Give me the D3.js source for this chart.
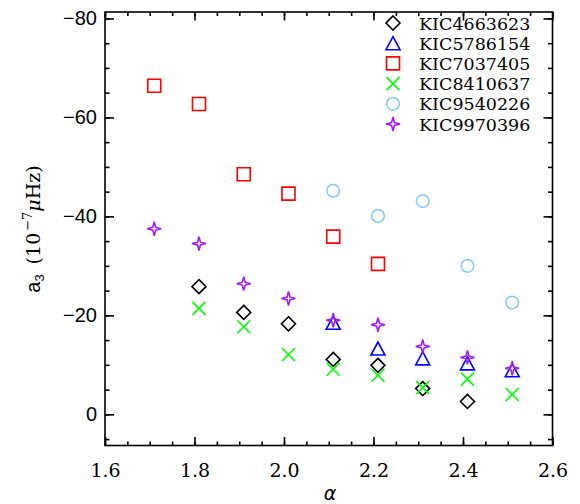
<!DOCTYPE html>
<html>
<head>
<meta charset="utf-8">
<title>a3 vs alpha</title>
<script src="https://d3js.org/d3.v7.min.js"></script>
<style>
  body { margin: 0; background: #fff; }
  svg { display: block; }
</style>
</head>
<body>
<div id="chart"></div>
<script>
// star names (legend order)
var kicNames = ["KIC4663623", "KIC5786154", "KIC7037405", "KIC8410637", "KIC9540226", "KIC9970396"];

// alpha values and a3 (10^-7 muHz) per star
var alpha4663623 = [1.81, 1.91, 2.01, 2.11, 2.21, 2.31, 2.41];
var a3_4663623   = [-25.8, -20.6, -18.3, -11.1, -9.9, -5.2, -2.6];

var alpha5786154 = [2.11, 2.21, 2.31, 2.41, 2.51];
var a3_5786154   = [-18.5, -13.3, -11.3, -10.3, -8.9];

var alpha7037405 = [1.71, 1.81, 1.91, 2.01, 2.11, 2.21];
var a3_7037405   = [-66.4, -62.7, -48.5, -44.6, -35.9, -30.4];

var alpha8410637 = [1.81, 1.91, 2.01, 2.11, 2.21, 2.31, 2.41, 2.51];
var a3_8410637   = [-21.4, -17.7, -12.1, -9.1, -7.9, -5.4, -7.1, -4.0];

var alpha9540226 = [2.11, 2.21, 2.31, 2.41, 2.51];
var a3_9540226   = [-45.2, -40.1, -43.1, -30.0, -22.6];

var alpha9970396 = [1.71, 1.81, 1.91, 2.01, 2.11, 2.21, 2.31, 2.41, 2.51];
var a3_9970396   = [-37.5, -34.5, -26.4, -23.4, -19.0, -18.1, -13.7, -11.5, -9.3];

var xTicks = [1.6, 1.8, 2.0, 2.2, 2.4, 2.6];
var yTicks = [-80, -60, -40, -20, 0];

var series = [
    { name: kicNames[0], x: alpha4663623, y: a3_4663623, sym: "diamond",  color: "#000000" },
    { name: kicNames[1], x: alpha5786154, y: a3_5786154, sym: "triangle", color: "#0000ff" },
    { name: kicNames[2], x: alpha7037405, y: a3_7037405, sym: "square",   color: "#ff0000" },
    { name: kicNames[3], x: alpha8410637, y: a3_8410637, sym: "cross",    color: "#00ff00" },
    { name: kicNames[4], x: alpha9540226, y: a3_9540226, sym: "circle",   color: "#87ceeb" },
    { name: kicNames[5], x: alpha9970396, y: a3_9970396, sym: "star",     color: "#a020f0" }
];

var width = 580, height = 504;
var plot = { left: 105, right: 552.5, top: 12, bottom: 445.5 };

var x = d3.scaleLinear().domain([1.6, 2.6]).range([plot.left, plot.right]);
var y = d3.scaleLinear().domain([6.3, -81.3]).range([plot.bottom, plot.top]);

var svg = d3.select("#chart").append("svg")
    .attr("width", width)
    .attr("height", height);

// symbol paths, about 14px across
function symbolPath(sym) {
    switch (sym) {
        case "diamond":  return "M0,-7L7,0L0,7L-7,0Z";
        case "triangle": return "M0,-6.5L7,6.5L-7,6.5Z";
        case "square":   return "M-6.5,-6.5H6.5V6.5H-6.5Z";
        case "cross":    return "M-6.5,-6.5L6.5,6.5M6.5,-6.5L-6.5,6.5";
        case "star":     return "M0,-7L1.4,-1.4L7,0L1.4,1.4L0,7L-1.4,1.4L-7,0L-1.4,-1.4Z";
    }
    return null;
}

function drawSymbol(g, sym, color) {
    if (sym == "circle") {
        g.append("circle").attr("r", 6.3)
            .attr("fill", "none").attr("stroke", color).attr("stroke-width", 1.6);
    } else {
        g.append("path").attr("d", symbolPath(sym))
            .attr("fill", "none").attr("stroke", color).attr("stroke-width", 1.6);
    }
}

// frame
svg.append("rect")
    .attr("x", plot.left).attr("y", plot.top)
    .attr("width", plot.right - plot.left).attr("height", plot.bottom - plot.top)
    .attr("fill", "none").attr("stroke", "#000").attr("stroke-width", 1.6);

var xMinor = d3.range(1.6, 2.6001, 0.05);
var yMinor = d3.range(5, -81, -5);

function styleAxis(g) {
    g.select(".domain").remove();
    g.selectAll(".tick line").attr("stroke", "#000").attr("stroke-width", 1.6);
}

// bottom axis
svg.append("g").attr("transform", "translate(0," + plot.bottom + ")")
    .call(d3.axisBottom(x).tickValues(xMinor).tickSize(-4).tickFormat(""))
    .call(styleAxis);
svg.append("g").attr("transform", "translate(0," + plot.bottom + ")")
    .call(d3.axisBottom(x).tickValues(xTicks).tickSize(-8.5).tickPadding(18).tickFormat(d3.format(".1f")))
    .call(styleAxis)
    .selectAll("text")
    .attr("font-family", "DejaVu Serif")
    .attr("font-size", 19)
    .attr("fill", "#000");

// top axis
svg.append("g").attr("transform", "translate(0," + plot.top + ")")
    .call(d3.axisTop(x).tickValues(xMinor).tickSize(-4).tickFormat(""))
    .call(styleAxis);
svg.append("g").attr("transform", "translate(0," + plot.top + ")")
    .call(d3.axisTop(x).tickValues(xTicks).tickSize(-8.5).tickFormat(""))
    .call(styleAxis);

// left axis
svg.append("g").attr("transform", "translate(" + plot.left + ",0)")
    .call(d3.axisLeft(y).tickValues(yMinor).tickSize(-4.5).tickFormat(""))
    .call(styleAxis);
svg.append("g").attr("transform", "translate(" + plot.left + ",0)")
    .call(d3.axisLeft(y).tickValues(yTicks).tickSize(-9).tickPadding(8).tickFormat(d3.format("d")))
    .call(styleAxis)
    .selectAll("text")
    .attr("font-family", "Liberation Sans")
    .attr("font-size", 20)
    .attr("fill", "#000");

// right axis
svg.append("g").attr("transform", "translate(" + plot.right + ",0)")
    .call(d3.axisRight(y).tickValues(yMinor).tickSize(-4.5).tickFormat(""))
    .call(styleAxis);
svg.append("g").attr("transform", "translate(" + plot.right + ",0)")
    .call(d3.axisRight(y).tickValues(yTicks).tickSize(-9).tickFormat(""))
    .call(styleAxis);

// points
series.forEach(function(s) {
    var pts = s.x.map(function(v, i) { return [v, s.y[i]]; });
    svg.append("g").selectAll("g")
        .data(pts)
        .enter().append("g")
        .attr("transform", function(d) { return "translate(" + x(d[0]) + "," + y(d[1]) + ")"; })
        .each(function() { drawSymbol(d3.select(this), s.sym, s.color); });
});

// legend
var legend = svg.append("g");
series.forEach(function(s, i) {
    var row = legend.append("g").attr("transform", "translate(0," + (23 + i * 20.2) + ")");
    drawSymbol(row.append("g").attr("transform", "translate(393,0)"), s.sym, s.color);
    row.append("text")
        .attr("x", 419).attr("y", 6.5)
        .attr("font-family", "DejaVu Serif")
        .attr("font-size", 17.5)
        .attr("fill", "#000")
        .text(s.name);
});

// x title
svg.append("text")
    .attr("x", 330).attr("y", 500)
    .attr("text-anchor", "middle")
    .attr("font-family", "DejaVu Sans")
    .attr("font-style", "italic")
    .attr("font-size", 19)
    .text("α");

// y title
var yt = svg.append("text")
    .attr("transform", "translate(40,229) rotate(-90)")
    .attr("text-anchor", "middle")
    .attr("fill", "#000");
yt.append("tspan").attr("font-family", "Liberation Sans").attr("font-size", 20).text("a");
yt.append("tspan").attr("font-family", "Liberation Sans").attr("font-size", 13).attr("dy", 4).text("3");
yt.append("tspan").attr("font-family", "DejaVu Serif").attr("font-size", 19).attr("dy", -4).attr("dx", 10).text("(10");
yt.append("tspan").attr("font-family", "DejaVu Serif").attr("font-size", 13).attr("dy", -8).attr("dx", 2).text("−7");
yt.append("tspan").attr("font-family", "DejaVu Serif").attr("font-style", "italic").attr("font-size", 19).attr("dy", 8).text("μ");
yt.append("tspan").attr("font-family", "DejaVu Serif").attr("font-size", 19).text("Hz)");
</script>
</body>
</html>
